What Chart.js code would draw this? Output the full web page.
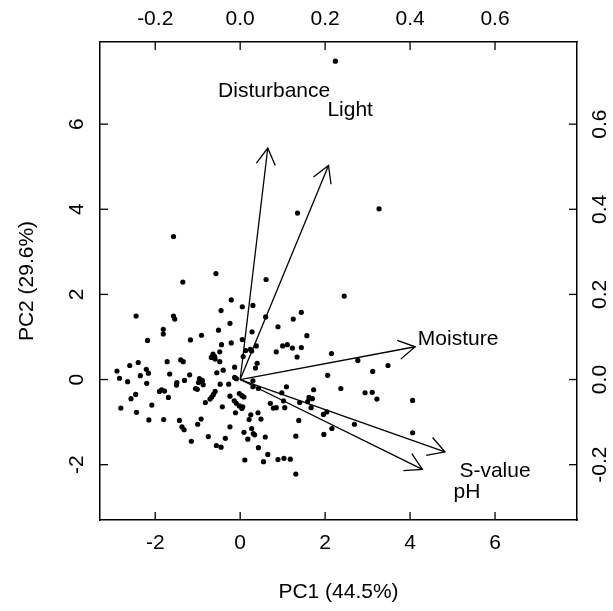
<!DOCTYPE html>
<html>
<head>
<meta charset="utf-8">
<script src="https://cdn.jsdelivr.net/npm/chart.js@4"></script>
<style>
  body { margin: 0; background: #fff; }
  canvas { display: block; }
</style>
</head>
<body>
<canvas id="biplot" width="613" height="611"></canvas>
<script>
// site scores on PC1 / PC2
const pc1 = [2.24, 1.35, -1.57, -0.57, -1.35, 0.61, 3.27, 2.45, 2.77, 3.12, 3.48, 2.37, 2.94, 3.11, 3.22, 4.06, 2.69, 4.06,
  -0.21, 0.05, 0.30, -2.45, -1.57, -1.54, -0.45, 0.60, 1.44, 1.25, -0.24, 0.89, -1.81, -1.81, -0.51, 0.28, -0.91, 1.57,
  -2.18, -1.17, -0.21, 0.05, -0.44, 1.00, 1.11, 1.23, 1.44, 0.38, 0.13, 0.24, 0.27, 0.85, 1.34, 2.15, -0.48, -0.64,
  -0.60, -0.68, -0.59, 0.07, 0.40, 0.36, -0.48, -1.40, -1.34, -1.72, -2.60, -2.40, -2.21, -2.16, -0.13, -0.40, -0.55,
  -1.19, -1.66, -2.35, -2.90, -2.84, -2.65, -1.31, -0.96, -0.89, -0.98, -0.87, -0.13, -0.09, 0.30, -2.20, -1.49, -1.50,
  -0.47, -0.27, 2.06, 0.30, 0.43, -1.05, -1.01, -1.85, -1.90, -1.78, -0.59, -0.63, -0.67, -0.02, 0.04, 0.09, 1.73, 0.98,
  1.09, -2.46, -0.24, -1.69, -2.57, -0.71, -0.82, -0.14, -0.09, -0.02, 1.02, 1.62, 1.70, 1.59, 1.40, 0.71, -2.08, -2.81,
  -0.42, 0.06, 0.04, 0.78, 0.85, 1.05, 1.67, 2.04, 1.96, -2.44, -0.11, 0.42, 0.25, 0.21, -0.92, 0.49, -2.15, -1.80, -1.43,
  1.38, -1.00, -1.37, -1.32, -0.24, 0.27, 0.09, 0.31, 0.34, 2.16, 1.97, -0.75, -0.35, 0.18, 0.59, 1.31, -1.15, -0.56,
  -0.45, 0.43, 0.65, 0.55, 0.11, 0.89, 1.03, 1.18, 1.31];
const pc2 = [7.48, 3.91, 3.36, 2.49, 2.29, 2.35, 4.01, 1.96, 0.45, 0.19, 0.33, -0.21, -0.31, -0.30, -0.46, -0.49, -1.05, -1.25,
  1.87, 1.71, 1.74, 1.49, 1.49, 1.42, 1.62, 1.47, 1.58, 1.42, 1.32, 1.24, 1.18, 1.07, 1.16, 1.12, 1.04, 1.03,
  0.92, 0.93, 0.86, 0.94, 0.82, 0.79, 0.82, 0.74, 0.75, 0.79, 0.68, 0.71, 0.67, 0.65, 0.53, 0.61, 0.65, 0.60,
  0.54, 0.52, 0.48, 0.54, 0.38, 0.27, 0.42, 0.46, 0.42, 0.42, 0.33, 0.40, 0.24, 0.15, 0.29, 0.22, 0.16,
  0.11, 0.13, 0.09, 0.20, 0.03, -0.05, -0.02, 0.02, -0.02, -0.07, -0.12, 0.05, 0.02, -0.03, -0.09, -0.07, -0.13,
  -0.11, -0.11, 0.10, -0.17, -0.21, -0.21, -0.23, -0.24, -0.28, -0.27, -0.28, -0.35, -0.41, -0.33, -0.38, -0.41, -0.24, -0.31,
  -0.17, -0.35, -0.39, -0.42, -0.45, -0.46, -0.54, -0.50, -0.56, -0.62, -0.50, -0.42, -0.45, -0.52, -0.54, -0.56, -0.60, -0.67,
  -0.64, -0.64, -0.68, -0.67, -0.66, -0.66, -0.66, -0.76, -0.82, -0.77, -0.78, -0.78, -0.83, -0.94, -0.93, -0.93, -0.95, -0.94, -0.96,
  -0.96, -1.05, -1.11, -1.18, -1.11, -1.15, -1.24, -1.27, -1.30, -1.15, -1.29, -1.34, -1.38, -1.40, -1.35, -1.33, -1.45, -1.55,
  -1.59, -1.60, -1.76, -1.93, -1.89, -1.88, -1.85, -1.87, -2.22];

// variable loadings (arrows) and where their names sit
const varNames = ['Disturbance', 'Light', 'Moisture', 'S-value', 'pH'];
const loadX = [0.065, 0.208, 0.412, 0.482, 0.429];
const loadY = [0.544, 0.503, 0.077, -0.170, -0.211];
const labelX = [0.080, 0.259, 0.513, 0.600, 0.534];
const labelY = [0.678, 0.633, 0.094, -0.216, -0.264];

// axis ticks
const scoreTicks = [-2, 0, 2, 4, 6];
const scoreTickLabels = ['-2', '0', '2', '4', '6'];
const loadTicks = [-0.2, 0, 0.2, 0.4, 0.6];
const loadTickLabels = ['-0.2', '0.0', '0.2', '0.4', '0.6'];

const scoreLim = [-3.3, 7.93];
const loadLim = [scoreLim[0] / 10, scoreLim[1] / 10];

const FONT = '"Liberation Sans", Arial, Helvetica, sans-serif';

const arrowSets = varNames.map((n, i) => ({
  type: 'line',
  label: n,
  data: [{ x: 0, y: 0 }, { x: loadX[i], y: loadY[i] }],
  xAxisID: 'x2',
  yAxisID: 'y2',
  borderColor: '#000',
  borderWidth: 1.3,
  pointRadius: 0,
  fill: false,
  isArrow: true
}));

// draws inward ticks, rotated R style tick labels, arrow heads and variable names
const biplotDecor = {
  id: 'biplotDecor',
  afterDatasetsDraw(chart) {
    const ctx = chart.ctx;
    const a = chart.chartArea;
    ctx.save();
    ctx.strokeStyle = '#000';
    ctx.fillStyle = '#000';
    ctx.lineWidth = 1.3;

    // arrow heads
    chart.data.datasets.forEach((ds, di) => {
      if (!ds.isArrow) return;
      const pts = chart.getDatasetMeta(di).data;
      const p0 = pts[0], p1 = pts[1];
      const ang = Math.atan2(p1.y - p0.y, p1.x - p0.x);
      const len = 19, spread = Math.PI / 6;
      ctx.beginPath();
      ctx.moveTo(p1.x - len * Math.cos(ang - spread), p1.y - len * Math.sin(ang - spread));
      ctx.lineTo(p1.x, p1.y);
      ctx.lineTo(p1.x - len * Math.cos(ang + spread), p1.y - len * Math.sin(ang + spread));
      ctx.stroke();
    });

    // variable names
    ctx.font = '21px ' + FONT;
    ctx.textAlign = 'center';
    ctx.textBaseline = 'middle';
    const lblMeta = chart.getDatasetMeta(chart.data.datasets.findIndex(d => d.isLabels));
    lblMeta.data.forEach((pt, i) => ctx.fillText(varNames[i], pt.x, pt.y));

    // ticks and tick labels
    const tl = 8, gap = 23;
    const sides = [
      { id: 'x', labels: scoreTickLabels },
      { id: 'x2', labels: loadTickLabels },
      { id: 'y', labels: scoreTickLabels },
      { id: 'y2', labels: loadTickLabels }
    ];
    sides.forEach(sd => {
      const s = chart.scales[sd.id];
      s.ticks.forEach((t, i) => {
        const p = s.getPixelForValue(t.value);
        ctx.beginPath();
        if (sd.id === 'x') { ctx.moveTo(p, a.bottom); ctx.lineTo(p, a.bottom - tl); }
        if (sd.id === 'x2') { ctx.moveTo(p, a.top); ctx.lineTo(p, a.top + tl); }
        if (sd.id === 'y') { ctx.moveTo(a.left, p); ctx.lineTo(a.left + tl, p); }
        if (sd.id === 'y2') { ctx.moveTo(a.right, p); ctx.lineTo(a.right - tl, p); }
        ctx.stroke();
        const txt = sd.labels[i];
        if (sd.id === 'x') ctx.fillText(txt, p, a.bottom + gap);
        else if (sd.id === 'x2') ctx.fillText(txt, p, a.top - gap);
        else {
          const cx = sd.id === 'y' ? a.left - gap : a.right + gap;
          ctx.save();
          ctx.translate(cx, p);
          ctx.rotate(-Math.PI / 2);
          ctx.fillText(txt, 0, 0);
          ctx.restore();
        }
      });
    });
    ctx.restore();
  }
};

const hiddenAxis = (pos, lim, ticks, size) => ({
  type: 'linear',
  position: pos,
  min: lim[0],
  max: lim[1],
  grid: { display: false },
  border: { display: true, color: '#000', width: 1.5 },
  ticks: { display: false },
  afterBuildTicks: s => { s.ticks = ticks.map(v => ({ value: v })); },
  afterFit: s => {
    if (pos === 'top' || pos === 'bottom') s.height = size; else s.width = size;
  }
});

const xAxis = hiddenAxis('bottom', scoreLim, scoreTicks, 91);
xAxis.title = { display: true, text: 'PC1 (44.5%)', color: '#000', font: { family: FONT, size: 21 }, padding: { top: 0, bottom: 6 } };
const yAxis = hiddenAxis('left', scoreLim, scoreTicks, 100);
yAxis.title = { display: true, text: 'PC2 (29.6%)', color: '#000', font: { family: FONT, size: 21 }, padding: { top: 15, bottom: 0 } };

new Chart(document.getElementById('biplot'), {
  type: 'scatter',
  data: {
    datasets: [
      {
        label: 'sites',
        data: pc1.map((v, i) => ({ x: v, y: pc2[i] })),
        xAxisID: 'x',
        yAxisID: 'y',
        backgroundColor: '#000',
        borderWidth: 0,
        pointRadius: 2.6,
        pointHoverRadius: 2.6
      },
      ...arrowSets,
      {
        label: 'names',
        data: labelX.map((v, i) => ({ x: v, y: labelY[i] })),
        xAxisID: 'x2',
        yAxisID: 'y2',
        pointRadius: 0,
        isLabels: true
      }
    ]
  },
  options: {
    responsive: false,
    animation: false,
    layout: { padding: 0 },
    plugins: { legend: { display: false }, tooltip: { enabled: false } },
    scales: {
      x: xAxis,
      y: yAxis,
      x2: hiddenAxis('top', loadLim, loadTicks, 42),
      y2: hiddenAxis('right', loadLim, loadTicks, 36)
    }
  },
  plugins: [biplotDecor]
});
</script>
</body>
</html>
